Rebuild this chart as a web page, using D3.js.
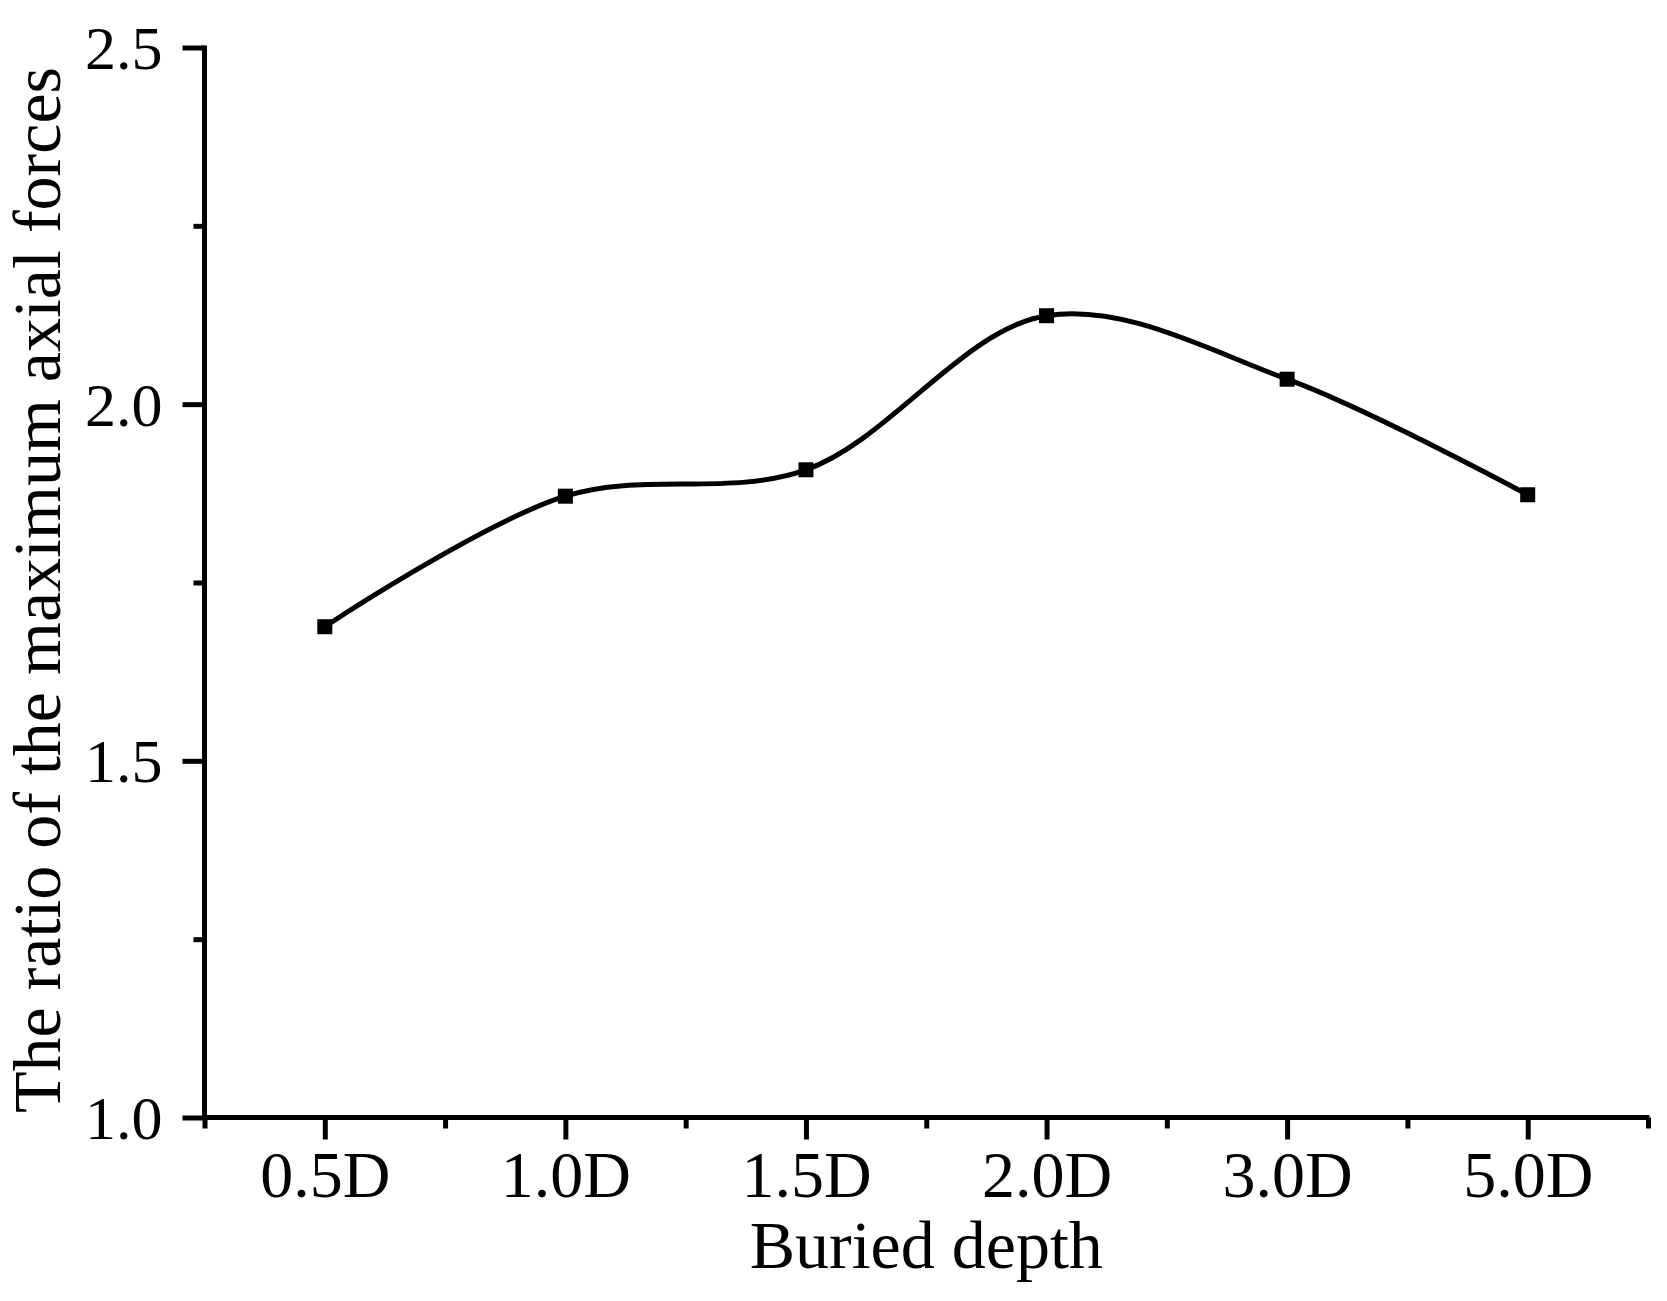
<!DOCTYPE html>
<html>
<head>
<meta charset="utf-8">
<script src="https://cdn.jsdelivr.net/npm/d3@7"></script>
<style>
html,body{margin:0;padding:0;background:#fff;}
svg{display:block;}
text{font-family:"Liberation Serif","Times New Roman",serif;fill:#000;}
</style>
</head>
<body>
<div id="chart"></div>
<script>
const categories = ["0.5D","1.0D","1.5D","2.0D","3.0D","5.0D"];
const ratioValues = [1.688, 1.871, 1.908, 2.124, 2.035, 1.873];
const yTickValues = [1.0, 1.5, 2.0, 2.5];
const yMinorTickValues = [1.25, 1.75, 2.25];
const xTitle = "Buried depth";
const yTitle = "The ratio of the maximum axial forces";

(function () {
const W = 1667, H = 1301;
const pL = 204.5, pR = 1648, pT = 47.5, pB = 1117.5;

const svg = d3.select("#chart").append("svg").attr("width", W).attr("height", H);

const x = d3.scaleLinear().domain([-0.5, categories.length - 0.5]).range([pL, pR]);
const y = d3.scaleLinear().domain([1.0, 2.5]).range([pB, pT]);

const axisW = 5;

// Y axis
const yAxis = d3.axisLeft(y).tickValues(yTickValues).tickSize(22).tickPadding(20).tickFormat(d3.format(".1f"));
const gy = svg.append("g").attr("transform", `translate(${pL},0)`).call(yAxis);
gy.select(".domain").attr("stroke", "#000").attr("stroke-width", axisW).attr("d", `M0,${pT - 2}V${pB + axisW / 2}`);
gy.selectAll(".tick line").attr("stroke", "#000").attr("stroke-width", axisW);
gy.selectAll(".tick text").attr("font-size", 62).attr("font-family", "Liberation Serif").attr("dy", "0.34em");
const yMinor = d3.axisLeft(y).tickValues(yMinorTickValues).tickSize(11).tickFormat("");
const gym = svg.append("g").attr("transform", `translate(${pL},0)`).call(yMinor);
gym.select(".domain").remove();
gym.selectAll(".tick line").attr("stroke", "#000").attr("stroke-width", axisW);

// X axis
const xAxis = d3.axisBottom(x).tickValues(d3.range(categories.length)).tickSize(22).tickPadding(11)
  .tickFormat(i => categories[i]);
const gx = svg.append("g").attr("transform", `translate(0,${pB})`).call(xAxis);
gx.select(".domain").attr("stroke", "#000").attr("stroke-width", axisW).attr("d", `M${pL - axisW / 2},0H${pR + 1.5}`);
gx.selectAll(".tick line").attr("stroke", "#000").attr("stroke-width", axisW);
gx.selectAll(".tick text").attr("font-size", 66).attr("font-family", "Liberation Serif").attr("dy", "0.71em");
const xMinor = d3.axisBottom(x).tickValues(d3.range(-0.5, categories.length, 1)).tickSize(11).tickFormat("");
const gxm = svg.append("g").attr("transform", `translate(0,${pB})`).call(xMinor);
gxm.select(".domain").remove();
gxm.selectAll(".tick line").attr("stroke", "#000").attr("stroke-width", axisW);

// Titles
svg.append("text").attr("x", (pL + pR) / 2).attr("y", 1268)
  .attr("text-anchor", "middle").attr("font-size", 68).text(xTitle);
svg.append("text").attr("transform", `translate(60,${590}) rotate(-90)`)
  .attr("text-anchor", "middle").attr("font-size", 68).text(yTitle);

// Line
const data = categories.map((c, i) => ({i, v: ratioValues[i]}));
const line = d3.line().x(d => x(d.i)).y(d => y(d.v)).curve(d3.curveCatmullRom.alpha(0.5));
svg.append("path").datum(data).attr("d", line).attr("fill", "none")
  .attr("stroke", "#000").attr("stroke-width", 5);

const ms = 15;
svg.selectAll("rect.m").data(data).enter().append("rect").attr("class", "m")
  .attr("x", d => x(d.i) - ms / 2).attr("y", d => y(d.v) - ms / 2)
  .attr("width", ms).attr("height", ms).attr("fill", "#000");
})();
</script>
</body>
</html>
